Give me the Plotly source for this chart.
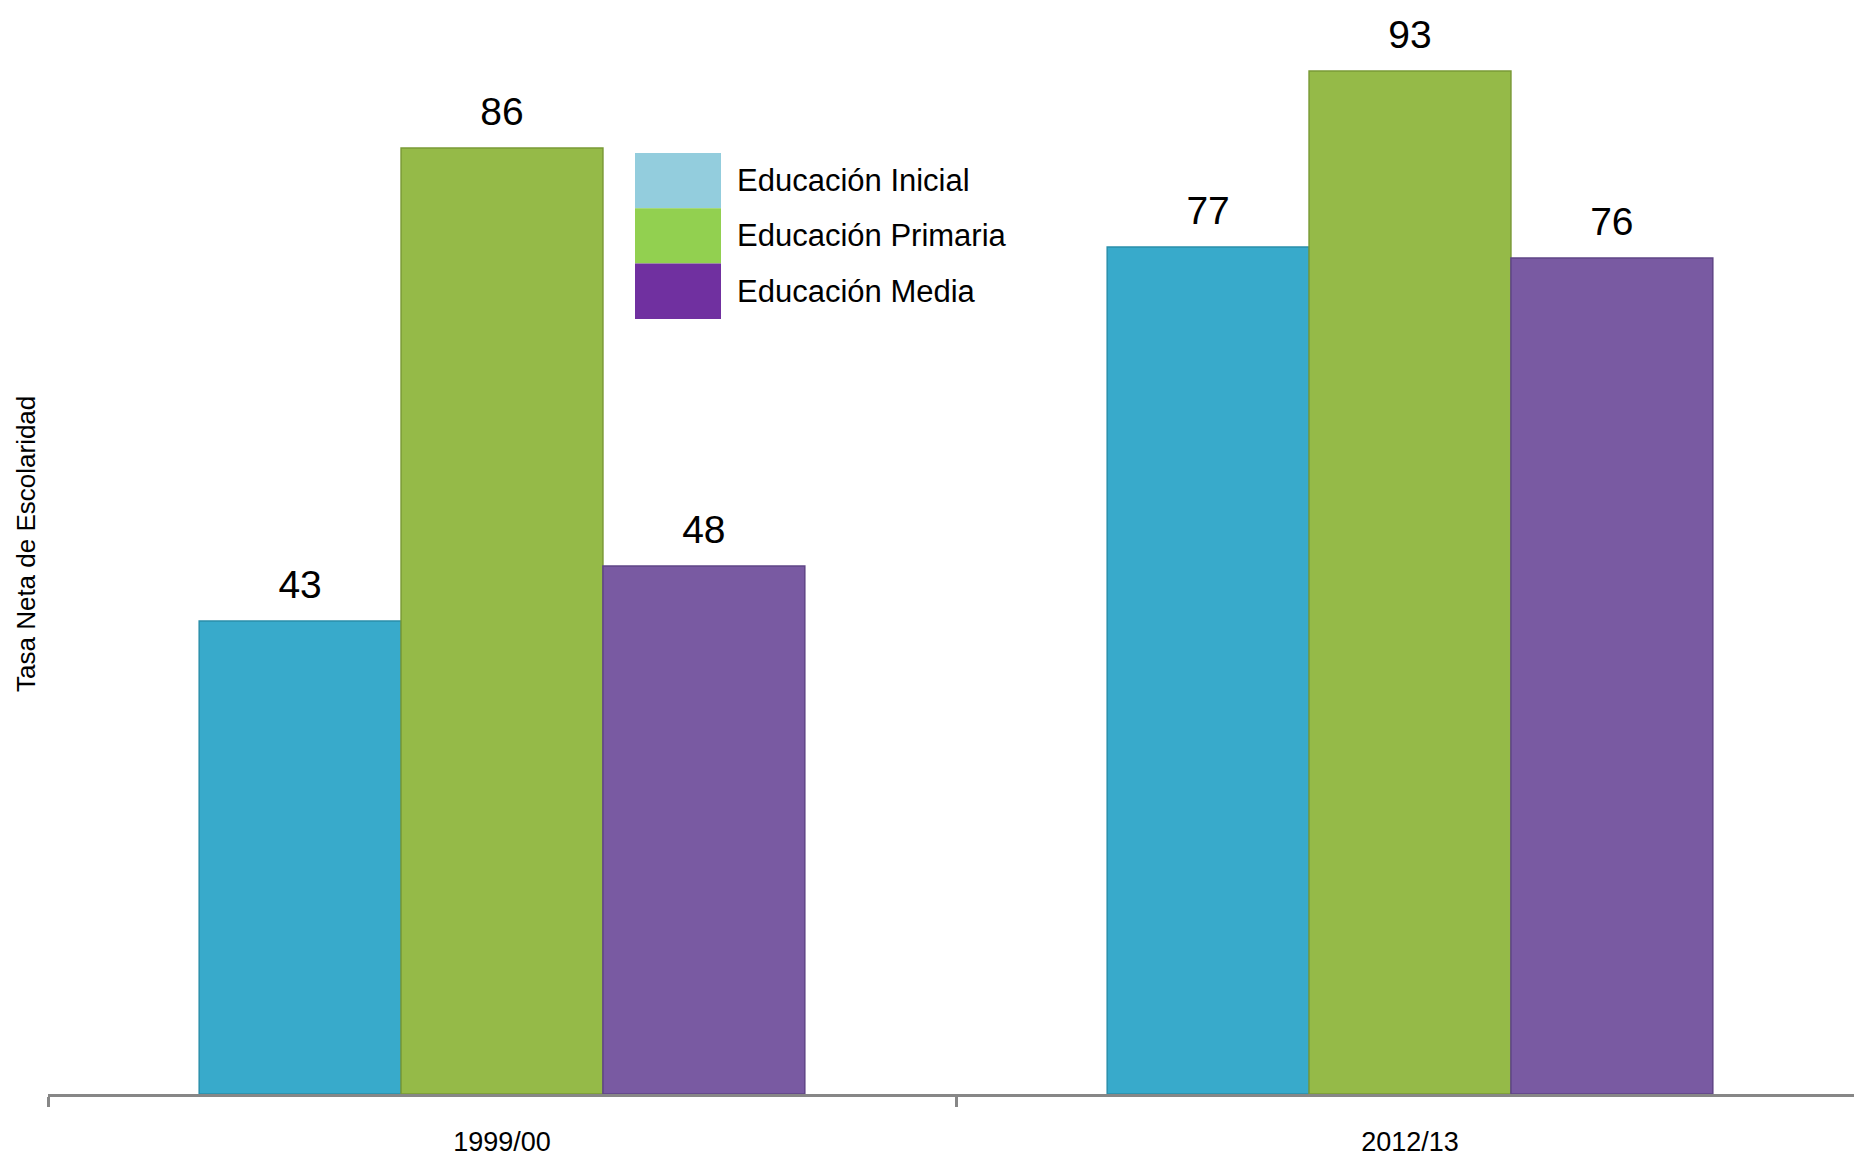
import plotly.graph_objects as go

categories = ["1999/00", "2012/13"]
series_names = ["Educación Inicial", "Educación Primaria", "Educación Media"]
inicial = [43, 77]
primaria = [86, 93]
media = [48, 76]

bar_colors = ["#38AACB", "#95BA48", "#795AA2"]
bar_edges = ["#2A8FAB", "#7A9A36", "#5F4586"]
legend_colors = ["#93CDDD", "#92D050", "#7030A0"]

W, H = 1854, 1158
L, R, T, B = 48, 0, 20, 64
px_per_unit = 11.0
plot_h = H - T - B
plot_w = W - L - R
cat_px = 908.0

LABEL_FONT = "Liberation Sans, Arial, sans-serif"

fig = go.Figure()
groups = ["g1", "g2", "g3"]
for name, vals, col, edge, g in zip(series_names, [inicial, primaria, media], bar_colors, bar_edges, groups):
    fig.add_trace(go.Bar(
        x=categories, y=vals, name=name, offsetgroup=g,
        marker=dict(color=col, line=dict(color=edge, width=1.5)),
        showlegend=False, hoverinfo="x+y+name",
    ))
for name, vals, g in zip(series_names, [inicial, primaria, media], groups):
    fig.add_trace(go.Scatter(
        x=categories, y=vals, name=name, offsetgroup=g,
        mode="markers+text", text=[str(v) for v in vals], textposition="top center",
        marker=dict(size=19, opacity=0),
        textfont=dict(family=LABEL_FONT, size=39, color="#000000"),
        cliponaxis=False, showlegend=False, hoverinfo="skip",
    ))

# manual legend (large swatches as in the reference)
sw_x0, sw_x1 = 635, 721
sw_y0, sw_h = 153, 55.3
for i, (name, col) in enumerate(zip(series_names, legend_colors)):
    y0 = sw_y0 + i * sw_h
    fig.add_shape(type="rect", xref="paper", yref="paper",
                  x0=(sw_x0 - L) / plot_w, x1=(sw_x1 - L) / plot_w,
                  y0=1 - (y0 + sw_h - T) / plot_h, y1=1 - (y0 - T) / plot_h,
                  fillcolor=col, line=dict(width=0), layer="above")
    fig.add_annotation(xref="paper", yref="paper",
                       x=(735 - L) / plot_w, y=1 - (y0 + sw_h / 2 - T) / plot_h,
                       xanchor="left", yanchor="middle", showarrow=False,
                       text=name,
                       font=dict(family=LABEL_FONT, size=31, color="#000000"))

# y axis title
fig.add_annotation(xref="paper", yref="paper",
                   x=(26 - L) / plot_w, y=1 - (544 - T) / plot_h,
                   xanchor="center", yanchor="middle", showarrow=False,
                   text="Tasa Neta de Escolaridad", textangle=-90,
                   font=dict(family=LABEL_FONT, size=26, color="#000000"))

fig.update_layout(
    width=W, height=H,
    margin=dict(l=L, r=R, t=T, b=B, pad=0, autoexpand=False),
    paper_bgcolor="white", plot_bgcolor="white",
    barmode="group", bargap=0.333, bargroupgap=0,
    scattermode="group", scattergap=0.333,
    showlegend=False,
    xaxis=dict(
        type="category", automargin=False,
        range=[-0.5, -0.5 + plot_w / cat_px],
        showline=True, linecolor="#878787", linewidth=2.5,
        ticks="outside", ticklen=10, tickcolor="#878787", tickwidth=2.5,
        tickson="boundaries",
        showgrid=False, zeroline=False,
        tickfont=dict(family=LABEL_FONT, size=27, color="#000000"),
        ticklabelstandoff=22,
    ),
    yaxis=dict(
        automargin=False,
        range=[0, plot_h / px_per_unit],
        showline=False, showgrid=False, zeroline=False,
        showticklabels=False, ticks="",
    ),
)

fig.write_html("out.html", config={"displayModeBar": False},
               post_script="document.body.style.margin='0';")
